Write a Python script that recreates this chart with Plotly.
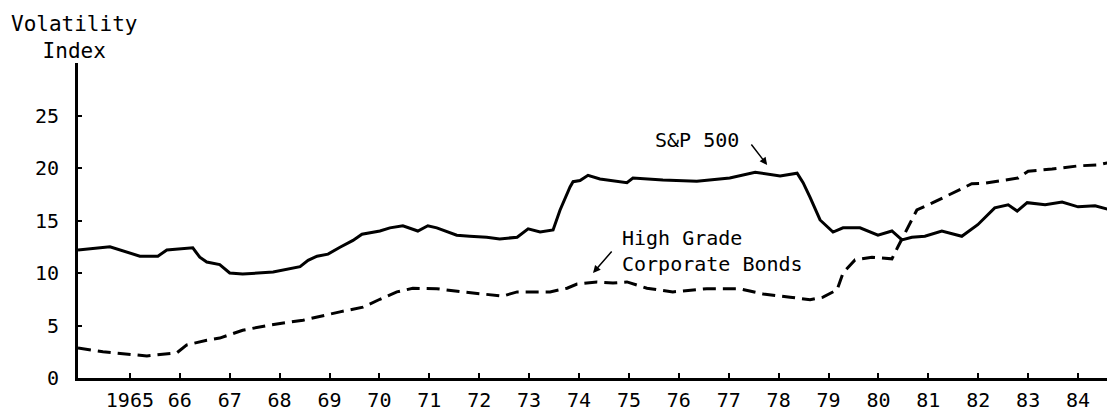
import plotly.graph_objects as go

FONT = 'DejaVu Sans Mono'

# S&P 500 volatility index (solid line)
sp_years = [1963.96, 1964.60, 1965.20, 1965.56, 1965.74, 1966.26, 1966.40, 1966.54, 1966.80, 1967.00,
            1967.26, 1967.87, 1968.41, 1968.57, 1968.75, 1968.97, 1969.21, 1969.47, 1969.65, 1970.01,
            1970.21, 1970.47, 1970.77, 1970.97, 1971.15, 1971.55, 1971.81, 1972.15, 1972.41, 1972.76,
            1972.98, 1973.22, 1973.48, 1973.62, 1973.82, 1973.88, 1974.02, 1974.18, 1974.42, 1974.96,
            1975.08, 1975.68, 1976.36, 1977.02, 1977.53, 1977.77, 1978.03, 1978.37, 1978.49, 1978.63,
            1978.83, 1979.09, 1979.29, 1979.63, 1979.99, 1980.27, 1980.47, 1980.67, 1980.93, 1981.27,
            1981.67, 1981.99, 1982.33, 1982.60, 1982.78, 1982.98, 1983.34, 1983.68, 1984.00, 1984.34,
            1984.74]
sp_values = [12.2, 12.5, 11.6, 11.6, 12.2, 12.4, 11.5, 11.05, 10.8, 10.0,
             9.9, 10.1, 10.6, 11.2, 11.6, 11.8, 12.45, 13.1, 13.7, 14.0,
             14.3, 14.5, 14.0, 14.5, 14.3, 13.6, 13.5, 13.4, 13.25, 13.4,
             14.2, 13.9, 14.1, 16.0, 18.2, 18.7, 18.8, 19.3, 18.95, 18.6,
             19.05, 18.85, 18.75, 19.05, 19.6, 19.4, 19.25, 19.5, 18.6, 17.2,
             15.05, 13.9, 14.3, 14.3, 13.6, 14.0, 13.15, 13.4, 13.5, 14.0,
             13.5, 14.6, 16.2, 16.5, 15.9, 16.7, 16.5, 16.75, 16.3, 16.4,
             15.9]

# High grade corporate bonds volatility index (dashed line)
bond_years = [1963.96, 1964.46, 1965.34, 1965.94, 1966.14, 1966.54, 1966.80, 1967.26, 1967.81, 1968.47,
              1969.21, 1969.67, 1970.01, 1970.35, 1970.67, 1971.15, 1971.67, 1972.01, 1972.47, 1972.76,
              1973.42, 1973.76, 1973.96, 1974.36, 1974.68, 1974.96, 1975.36, 1975.88, 1976.56, 1977.22,
              1977.69, 1978.23, 1978.63, 1978.89, 1979.17, 1979.29, 1979.53, 1979.87, 1980.27, 1980.39,
              1980.57, 1980.77, 1981.07, 1981.47, 1981.87, 1982.13, 1982.53, 1982.80, 1983.00, 1983.48,
              1984.00, 1984.40, 1984.74]
bond_values = [2.85, 2.5, 2.1, 2.4, 3.15, 3.6, 3.8, 4.55, 5.05, 5.5,
               6.3, 6.75, 7.5, 8.2, 8.55, 8.5, 8.2, 8.0, 7.8, 8.2,
               8.2, 8.55, 8.95, 9.15, 9.05, 9.15, 8.55, 8.2, 8.5, 8.5,
               8.0, 7.7, 7.45, 7.7, 8.4, 10.0, 11.25, 11.5, 11.35, 12.5,
               14.1, 16.0, 16.65, 17.6, 18.5, 18.55, 18.85, 19.05, 19.7, 19.9,
               20.2, 20.3, 20.65]

year_ticks = list(range(1965, 1985))
year_labels = ['1965'] + [str(y)[2:] for y in year_ticks[1:]]
y_ticks = [0, 5, 10, 15, 20, 25]

fig = go.Figure()
fig.add_trace(go.Scatter(x=sp_years, y=sp_values, mode='lines', name='S&P 500',
                         line=dict(color='black', width=3)))
fig.add_trace(go.Scatter(x=bond_years, y=bond_values, mode='lines', name='High Grade Corporate Bonds',
                         line=dict(color='black', width=3, dash='13px,7px')))

fig.update_xaxes(range=[1963.96, 1984.74], tickvals=year_ticks, ticktext=year_labels,
                 showline=True, linecolor='black', linewidth=3, showgrid=False, zeroline=False,
                 ticks='inside', ticklen=5, tickwidth=2, tickcolor='black', ticklabelstandoff=2)
fig.update_yaxes(range=[0, 30], tickvals=y_ticks, showline=True, linecolor='black', linewidth=3,
                 showgrid=False, zeroline=False, ticks='inside', ticklen=4, tickwidth=2,
                 tickcolor='black', ticklabelstandoff=12)

fig.add_annotation(xref='paper', yref='paper', x=-0.004, y=1.168, text='Volatility<br>Index',
                   showarrow=False, align='center', xanchor='center', yanchor='top',
                   font=dict(size=21))
fig.add_annotation(x=1976.36, y=22.67, text='S&P 500', showarrow=False)
fig.add_annotation(x=1977.77, y=20.29, ax=1977.43, ay=22.38, axref='x', ayref='y', text='',
                   showarrow=True, arrowhead=2, arrowsize=1, arrowwidth=1.5, arrowcolor='black')
fig.add_annotation(x=1974.82, y=12.14, text='High Grade<br>Corporate Bonds', showarrow=False,
                   align='left', xanchor='left')
fig.add_annotation(x=1974.28, y=10.0, ax=1974.68, ay=12.19, axref='x', ayref='y', text='',
                   showarrow=True, arrowhead=2, arrowsize=1, arrowwidth=1.5, arrowcolor='black')

# page body adds an 8px offset, so the figure is sized 8px smaller on each axis
fig.update_layout(width=1107, height=406, margin=dict(l=70, r=0, t=55, b=36),
                  plot_bgcolor='white', paper_bgcolor='white', showlegend=False,
                  font=dict(family=FONT, size=20, color='black'))

fig.write_html('out.html')
